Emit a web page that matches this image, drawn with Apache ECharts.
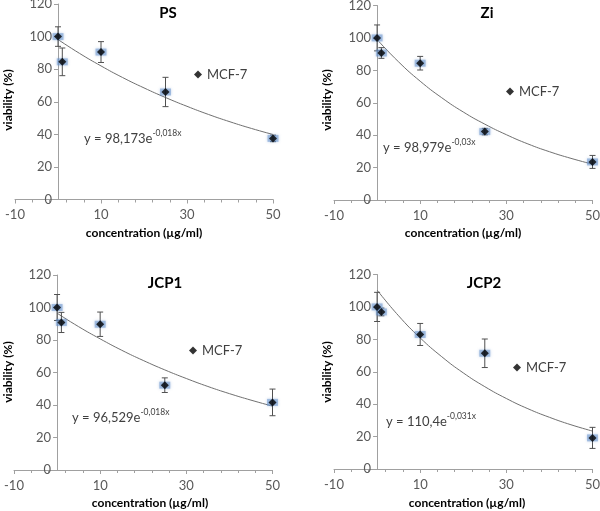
<!DOCTYPE html>
<html><head><meta charset="utf-8">
<script src="https://cdn.jsdelivr.net/npm/echarts@6/dist/echarts.min.js"></script>
<style>html,body{margin:0;padding:0;background:#fff}#c{width:600px;height:511px}</style>
</head><body><div id="c"></div>
<script>
// ---- data ----
const panelTitles = ['PS', 'Zi', 'JCP1', 'JCP2'];
const concentrations = [0, 1, 10, 25, 50];
const psViability   = [100, 84.5, 90.5, 66, 37.5];
const psError       = [6, 8.5, 6.4, 9, 2];
const ziViability   = [100, 90.7, 84.4, 42.2, 23.5];
const ziError       = [8, 3.3, 4.2, 2, 4];
const jcp1Viability = [100, 90.8, 89.7, 52.2, 41.6];
const jcp1Error     = [8, 6.2, 7.5, 4.5, 8.2];
const jcp2Viability = [100, 96.9, 83, 71.4, 19.2];
const jcp2Error     = [9, 2.4, 6.8, 8.8, 6.5];
// trendline values
const fitX    = [0, 5, 10, 15, 20, 25, 30, 35, 40, 45, 50];
const psFit   = [98.2, 89.7, 82.0, 74.9, 68.5, 62.6, 57.2, 52.2, 47.7, 43.6, 39.9];
const ziFit   = [99.0, 85.2, 73.3, 63.1, 54.3, 46.8, 40.3, 34.6, 29.8, 25.7, 22.1];
const jcp1Fit = [96.5, 88.2, 80.7, 73.7, 67.4, 61.6, 56.3, 51.4, 47.0, 43.0, 39.3];
const jcp2Fit = [110.4, 94.5, 80.9, 69.3, 59.3, 50.8, 43.5, 37.2, 31.9, 27.3, 23.4];
const eqCoef  = ['98,173', '98,979', '96,529', '110,4'];
const eqExp   = ['-0,018x', '-0,03x', '-0,018x', '-0,031x'];
const xTickLabels = ['-10', '10', '30', '50'];
const seriesName = 'MCF-7';
const xAxisTitle = 'concentration (µg/ml)';
const yAxisTitle = 'viability (%)';

const means = [psViability, ziViability, jcp1Viability, jcp2Viability];
const errs = [psError, ziError, jcp1Error, jcp2Error];
const fits = [psFit, ziFit, jcp1Fit, jcp2Fit];

// ---- layout ----
const layout = [
  {left: 15,  top: 4,   w: 258, h: 195.5, title: [168, 13], eq: [84, 129], leg: [194, 68], yt: [8, 100], xt: [144, 233]},
  {left: 334, top: 5.5, w: 258.5, h: 194.5, title: [487, 13], eq: [383, 138], leg: [506, 85], yt: [327, 100], xt: [463, 233]},
  {left: 14,  top: 275, w: 258.5, h: 195, title: [165, 283], eq: [72, 408], leg: [189, 344], yt: [8, 372], xt: [150, 503]},
  {left: 334, top: 274.5, w: 258.5, h: 194.5, title: [484, 283], eq: [386, 412], leg: [513, 361], yt: [327, 372], xt: [467, 503]}
];

const FONT = 'Lato';
const grids = [], xAxes = [], yAxes = [], series = [], legends = [], graphics = [];
const axisGray = '#a0a0a0';

layout.forEach((L, i) => {
  grids.push({left: L.left, top: L.top, width: L.w, height: L.h, containLabel: false, outerBoundsMode: 'none'});
  xAxes.push({
    gridIndex: i, type: 'value', min: -10, max: 50, position: 'bottom',
    axisLine: {show: true, onZero: false, lineStyle: {color: axisGray, width: 1}},
    axisTick: {show: false}, axisLabel: {show: false}, splitLine: {show: false}
  });
  xAxes.push({
    gridIndex: i, type: 'value', min: 0, max: 60, interval: 20, position: 'bottom',
    axisLine: {show: false, onZero: false},
    axisTick: {show: true, length: 4, lineStyle: {color: axisGray}},
    minorTick: {show: true, splitNumber: 5, length: 3, lineStyle: {color: axisGray}},
    axisLabel: {show: true, margin: 9, fontSize: 13, fontFamily: FONT, color: '#595959',
      formatter: v => xTickLabels[Math.round(v / 20)]},
    splitLine: {show: false}
  });
  yAxes.push({
    gridIndex: i, type: 'value', min: 0, max: 120, interval: 20, position: 'left', offset: 0,
    axisLine: {show: true, onZero: false, lineStyle: {color: axisGray, width: 1}},
    axisTick: {show: true, length: 4, lineStyle: {color: axisGray}},
    axisLabel: {show: true, margin: 6, fontSize: 13, fontFamily: FONT, color: '#595959'},
    splitLine: {show: false}
  });

  const pts = concentrations.map((c, k) => [c, means[i][k], errs[i][k]]);
  series.push({
    type: 'line', xAxisIndex: 2 * i, yAxisIndex: i, smooth: true, symbol: 'none', silent: true,
    lineStyle: {color: '#707070', width: 1}, z: 1,
    data: fitX.map((x, k) => [x, fits[i][k]])
  });
  series.push({
    type: 'custom', xAxisIndex: 2 * i, yAxisIndex: i, silent: true, z: 2,
    encode: {x: 0, y: 1},
    data: pts,
    renderItem: (params, api) => {
      const x = api.value(0), y = api.value(1), e = api.value(2);
      const t = api.coord([x, y + e]), b = api.coord([x, y - e]);
      const cap = 3, st = {stroke: '#505050', lineWidth: 1};
      return {type: 'group', children: [
        {type: 'line', shape: {x1: t[0], y1: t[1], x2: b[0], y2: b[1]}, style: st},
        {type: 'line', shape: {x1: t[0] - cap, y1: t[1], x2: t[0] + cap, y2: t[1]}, style: st},
        {type: 'line', shape: {x1: b[0] - cap, y1: b[1], x2: b[0] + cap, y2: b[1]}, style: st}
      ]};
    }
  });
  series.push({
    type: 'scatter', xAxisIndex: 2 * i, yAxisIndex: i, silent: true, z: 3,
    symbol: 'rect', symbolSize: [11, 7],
    itemStyle: {color: 'rgba(95,140,200,0.6)', shadowBlur: 3, shadowColor: 'rgba(95,140,200,0.8)'},
    data: pts.map(p => [p[0], p[1]])
  });
  series.push({
    name: seriesName, type: 'scatter', xAxisIndex: 2 * i, yAxisIndex: i, z: 4,
    symbol: 'diamond', symbolSize: 8,
    itemStyle: {color: '#000'},
    data: pts.map(p => [p[0], p[1]])
  });

  legends.push({
    data: [{name: seriesName, icon: 'diamond'}], left: L.leg[0], top: L.leg[1],
    itemWidth: 8, itemHeight: 8, itemGap: 0, padding: 0, selectedMode: false,
    textStyle: {fontSize: 13, fontFamily: FONT, color: '#404040'}
  });

  graphics.push({type: 'text', x: L.title[0], y: L.title[1],
    style: {text: panelTitles[i], fontSize: 15, fontWeight: 'bold', fontFamily: FONT, fill: '#000', align: 'center', verticalAlign: 'middle'}});
  graphics.push({type: 'text', x: L.xt[0], y: L.xt[1],
    style: {text: xAxisTitle, fontSize: 12, fontWeight: 'bold', fontFamily: FONT, fill: '#000', align: 'center', verticalAlign: 'middle'}});
  graphics.push({type: 'text', x: L.yt[0], y: L.yt[1], rotation: Math.PI / 2,
    style: {text: yAxisTitle, fontSize: 12, fontWeight: 'bold', fontFamily: FONT, fill: '#000', align: 'center', verticalAlign: 'middle'}});
  graphics.push({type: 'text', x: L.eq[0], y: L.eq[1],
    style: {
      text: '{m|y = ' + eqCoef[i] + 'e}{s|' + eqExp[i] + '}',
      rich: {
        m: {fontSize: 13, fontFamily: FONT, fill: '#404040', lineHeight: 16, verticalAlign: 'bottom'},
        s: {fontSize: 8.5, fontFamily: FONT, fill: '#404040', lineHeight: 16, verticalAlign: 'top', padding: [0, 0, 6, 0]}
      }
    }});
});

const chart = echarts.init(document.getElementById('c'), null, {renderer: 'canvas'});
chart.setOption({
  animation: false,
  backgroundColor: '#fff',
  textStyle: {fontFamily: FONT},
  grid: grids, xAxis: xAxes, yAxis: yAxes, series: series, legend: legends,
  graphic: graphics
});
// move each y axis so it crosses the x axis at concentration 0
const yOffsets = layout.map((L, i) => {
  const x0 = chart.convertToPixel({xAxisIndex: 2 * i}, 0);
  return {offset: L.left - x0};
});
chart.setOption({yAxis: yOffsets});
</script>
</body></html>
